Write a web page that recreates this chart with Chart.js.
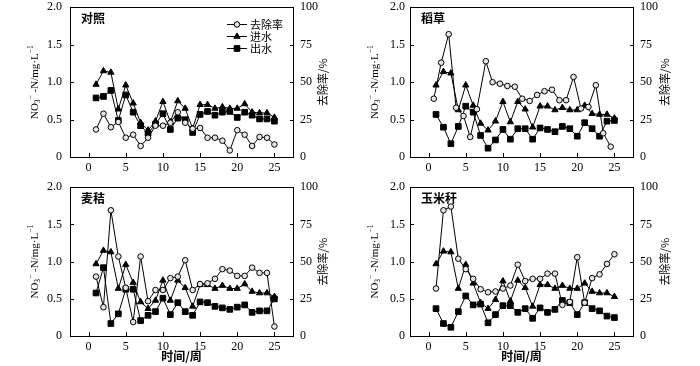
<!DOCTYPE html>
<html>
<head>
<meta charset="utf-8">
<script src="https://cdn.jsdelivr.net/npm/chart.js@4.4.1/dist/chart.umd.min.js"></script>
<style>
  html, body { margin: 0; padding: 0; background: #fff; }
  #wrap { position: relative; width: 700px; height: 366px; overflow: hidden; }
  #wrap canvas { position: absolute; }
  #wrap .ln { position: absolute; background: #000; z-index: 2; }
</style>
</head>
<body>
<div id="wrap">
  <canvas id="c1" width="350" height="200" style="left:0;top:0"></canvas>
  <canvas id="c2" width="350" height="200" style="left:350px;top:0"></canvas>
  <canvas id="c3" width="350" height="200" style="left:0;top:183px"></canvas>
  <canvas id="c4" width="350" height="200" style="left:350px;top:183px"></canvas>
</div>
<script>
(function () {
  'use strict';

  // ── Data ──────────────────────────────────────────────────────────────────
  var WEEKS = [1, 2, 3, 4, 5, 6, 7, 8, 9, 10, 11, 12, 13, 14, 15, 16, 17, 18, 19, 20, 21, 22, 23, 24, 25];
  // removal-rate markers of the rice straw panel sit a little left of the week
  var STRAW_RATE_WEEKS = [0.7, 1.7, 2.7, 3.7, 4.7, 5.6, 6.5, 7.7, 8.6, 9.6, 10.6, 11.6, 12.6, 13.6, 14.6, 15.6, 16.6, 17.6, 18.5, 19.5, 20.5, 21.5, 22.5, 23.5, 24.5];
  var X_TICKS = [0, 5, 10, 15, 20, 25];
  var Y_TICKS = [0, 0.5, 1.0, 1.5, 2.0];
  var Y2_TICKS = [0, 25, 50, 75, 100];
  var SERIES_NAMES = ['去除率', '进水', '出水'];
  var PANEL_NAMES = ['对照', '稻草', '麦秸', '玉米秆'];

  var inflowCtrl = [0.97, 1.15, 1.13, 0.64, 0.96, 0.72, 0.46, 0.36, 0.48, 0.74, 0.47, 0.75, 0.65, 0.38, 0.70, 0.70, 0.65, 0.67, 0.65, 0.65, 0.71, 0.60, 0.59, 0.59, 0.53];
  var outflowCtrl = [0.79, 0.81, 0.89, 0.49, 0.83, 0.60, 0.42, 0.32, 0.44, 0.58, 0.37, 0.52, 0.50, 0.33, 0.57, 0.61, 0.56, 0.60, 0.61, 0.53, 0.60, 0.56, 0.51, 0.51, 0.48];
  var rateCtrl = [18.5, 29, 20, 23.5, 13, 15, 7.5, 13, 21, 21, 23, 30, 23, 19, 19.5, 13, 13, 11, 4.5, 18, 15, 7.5, 13.5, 13, 8.5];

  var inflowRice = [0.96, 1.14, 1.12, 0.63, 0.96, 0.69, 0.45, 0.36, 0.48, 0.74, 0.47, 0.74, 0.64, 0.40, 0.68, 0.68, 0.63, 0.66, 0.63, 0.63, 0.69, 0.58, 0.57, 0.57, 0.52];
  var outflowRice = [0.57, 0.40, 0.18, 0.41, 0.68, 0.60, 0.29, 0.12, 0.23, 0.37, 0.24, 0.38, 0.38, 0.24, 0.39, 0.37, 0.34, 0.41, 0.38, 0.28, 0.46, 0.38, 0.28, 0.48, 0.49];
  var rateRice = [39, 63, 82, 33, 27.5, 13.5, 32, 64, 50, 49, 47.5, 47, 39, 37.5, 41.5, 44, 45, 38, 38, 53.5, 32.5, 33.5, 48, 16, 7];

  var inflowWheat = [0.97, 1.15, 1.13, 0.64, 0.96, 0.72, 0.46, 0.37, 0.48, 0.75, 0.48, 0.75, 0.65, 0.40, 0.69, 0.69, 0.64, 0.68, 0.64, 0.64, 0.70, 0.60, 0.58, 0.58, 0.53];
  var outflowWheat = [0.58, 0.92, 0.17, 0.30, 0.63, 0.63, 0.21, 0.28, 0.33, 0.51, 0.29, 0.45, 0.33, 0.28, 0.46, 0.45, 0.40, 0.38, 0.36, 0.39, 0.42, 0.32, 0.34, 0.34, 0.50];
  var rateWheat = [40, 19.5, 84.5, 53.5, 32.5, 9.5, 53.5, 23.5, 31, 31, 39, 40, 51, 31, 35, 35.5, 38.5, 45, 44, 40.5, 40.5, 46, 42.5, 42.5, 6.5];

  var inflowCorn = [0.97, 1.14, 1.13, 0.64, 0.96, 0.71, 0.45, 0.37, 0.49, 0.74, 0.47, 0.75, 0.65, 0.40, 0.69, 0.69, 0.64, 0.68, 0.64, 0.64, 0.71, 0.60, 0.58, 0.58, 0.53];
  var outflowCorn = [0.37, 0.17, 0.12, 0.33, 0.54, 0.42, 0.43, 0.18, 0.29, 0.41, 0.41, 0.32, 0.37, 0.24, 0.38, 0.32, 0.36, 0.48, 0.45, 0.29, 0.45, 0.37, 0.34, 0.27, 0.25];
  var rateCorn = [32, 84.5, 87, 52, 45, 38.5, 31.5, 29.5, 30, 32, 34, 48, 37, 38.5, 38.5, 42, 42, 21, 23, 53, 22.5, 39, 41.5, 48.5, 55];

  // ── Panel layout (page pixels) ────────────────────────────────────────────
  var PANELS = [
    { id: 'c1', name: PANEL_NAMES[0], inflow: inflowCtrl, outflow: outflowCtrl, rate: rateCtrl, rateWeeks: WEEKS,
      x0: 0, y0: 0, area: { l: 70, r: 293, t: 7, b: 157 }, lPad: 8, titleX: 35, rTitleX: 323, legend: true, xTitle: false },
    { id: 'c2', name: PANEL_NAMES[1], inflow: inflowRice, outflow: outflowRice, rate: rateRice, rateWeeks: STRAW_RATE_WEEKS,
      x0: 350, y0: 0, area: { l: 60, r: 283, t: 7, b: 157 }, lPad: 5, titleX: 25, rTitleX: 315, legend: false, xTitle: false },
    { id: 'c3', name: PANEL_NAMES[2], inflow: inflowWheat, outflow: outflowWheat, rate: rateWheat, rateWeeks: WEEKS,
      x0: 0, y0: 183, area: { l: 70, r: 293, t: 4, b: 153 }, lPad: 8, titleX: 35, rTitleX: 323, legend: false, xTitle: true },
    { id: 'c4', name: PANEL_NAMES[3], inflow: inflowCorn, outflow: outflowCorn, rate: rateCorn, rateWeeks: WEEKS,
      x0: 350, y0: 183, area: { l: 60, r: 283, t: 4, b: 153 }, lPad: 5, titleX: 25, rTitleX: 315, legend: false, xTitle: true }
  ];

  var SERIF = "'Liberation Serif', 'Times New Roman', serif";
  var CJK = "'Noto Sans CJK SC', 'Noto Sans', sans-serif";

  var STYLES = [
    { pointStyle: 'circle', radius: 2.8, bg: '#e4e4e4' },
    { pointStyle: 'triangle', radius: 3.6, bg: '#000' },
    { pointStyle: 'rect', radius: 4, bg: '#000' }
  ];

  var wrap = document.getElementById('wrap');

  function pts(xs, ys) {
    return ys.map(function (y, i) { return { x: xs[i], y: y }; });
  }

  function dataset(i, data, axis) {
    var s = STYLES[i];
    return {
      label: SERIES_NAMES[i],
      data: data,
      yAxisID: axis,
      borderColor: '#000',
      borderWidth: 1,
      backgroundColor: s.bg,
      pointStyle: s.pointStyle,
      pointRadius: s.radius,
      pointBorderWidth: 1,
      pointBorderColor: '#000',
      pointBackgroundColor: s.bg,
      tension: 0,
      clip: false
    };
  }

  function drawSupText(ctx, parts, x, y) {
    var total = 0;
    parts.forEach(function (q) {
      ctx.font = (q[1] === 'n' ? '11px ' : '7.5px ') + SERIF;
      total += ctx.measureText(q[0]).width;
    });
    var cx = x - total / 2;
    parts.forEach(function (q) {
      ctx.font = (q[1] === 'n' ? '11px ' : '7.5px ') + SERIF;
      var dy = q[1] === 'sub' ? 3 : (q[1] === 'sup' ? -4 : 0);
      ctx.fillText(q[0], cx, y + dy);
      cx += ctx.measureText(q[0]).width;
    });
  }

  function decorate(chart, p) {
    var a = chart.chartArea, ctx = chart.ctx;
    var midY = (a.top + a.bottom) / 2;
    ctx.save();
    ctx.fillStyle = '#000';
    ctx.textBaseline = 'middle';

    // left axis title
    ctx.save();
    ctx.translate(p.titleX, midY);
    ctx.rotate(-Math.PI / 2);
    ctx.textAlign = 'left';
    drawSupText(ctx, [['NO', 'n'], ['3', 'sub'], ['\u2212', 'sup'], [' -N/mg\u00b7L', 'n'], ['\u22121', 'sup']], 0, 0);
    ctx.restore();

    // right axis title
    ctx.save();
    ctx.translate(p.rTitleX, midY);
    ctx.rotate(-Math.PI / 2);
    ctx.textAlign = 'center';
    ctx.font = '11px ' + CJK;
    ctx.fillText('去除率/%', 0, 0);
    ctx.restore();

    // panel name
    ctx.textAlign = 'left';
    ctx.font = 'bold 12px ' + CJK;
    ctx.fillText(p.name, a.left + 11, a.top + 11);

    if (p.xTitle) {
      ctx.textAlign = 'center';
      ctx.font = 'bold 12px ' + CJK;
      ctx.fillText('时间/周', (a.left + a.right) / 2, a.bottom + 20);
    }

    if (p.legend) {
      [17, 29, 41].forEach(function (dy, i) {
        var s = STYLES[i], ry = Math.round(a.top + dy);
        ctx.fillStyle = '#000';
        ctx.fillRect(227, ry, 20, 1);
        ctx.fillStyle = s.bg;
        ctx.strokeStyle = '#000';
        ctx.lineWidth = 1;
        Chart.helpers.drawPoint(ctx, { pointStyle: s.pointStyle, radius: s.radius, rotation: 0, borderWidth: 1 }, 237, ry + 0.5);
        ctx.fillStyle = '#000';
        ctx.font = '11px ' + CJK;
        ctx.textAlign = 'left';
        ctx.fillText(SERIES_NAMES[i], 250, ry + 0.5);
      });
    }
    ctx.restore();
  }

  // thin black rule laid over the canvas
  function rule(x, y, w, h) {
    var d = document.createElement('div');
    d.className = 'ln';
    d.style.left = x + 'px';
    d.style.top = y + 'px';
    d.style.width = w + 'px';
    d.style.height = h + 'px';
    wrap.appendChild(d);
  }

  // plot frame and inward tick marks, placed from the chart's own scales
  function frame(chart, left, top) {
    var a = chart.chartArea;
    var xs = chart.scales.x, ys = chart.scales.y, y2 = chart.scales.y2;
    var L = Math.round(a.left), T = Math.round(a.top), R = Math.round(a.right), B = Math.round(a.bottom);
    rule(left + L, top + T, R - L + 1, 1);
    rule(left + L, top + B, R - L + 1, 1);
    rule(left + L, top + T, 1, B - T + 1);
    rule(left + R, top + T, 1, B - T + 1);
    X_TICKS.forEach(function (v) {
      rule(left + Math.round(xs.getPixelForValue(v)), top + B - 4, 1, 4);
    });
    Y_TICKS.forEach(function (v) {
      rule(left + L, top + Math.round(ys.getPixelForValue(v)), 4, 1);
    });
    Y2_TICKS.forEach(function (v) {
      rule(left + R - 3, top + Math.round(y2.getPixelForValue(v)), 4, 1);
    });
  }

  function fixedTicks(list) {
    return function (scale) {
      scale.ticks = list.map(function (v) { return { value: v }; });
    };
  }

  PANELS.forEach(function (p) {
    var canvas = document.getElementById(p.id);
    var W = canvas.width, H = canvas.height;
    var plotH = p.area.b - p.area.t;
    var xHeight = 30;
    var tickFont = { family: SERIF, size: 12 };

    var chart = new Chart(canvas, {
      type: 'line',
      data: {
        datasets: [
          dataset(0, pts(p.rateWeeks, p.rate), 'y2'),
          dataset(1, pts(WEEKS, p.inflow), 'y'),
          dataset(2, pts(WEEKS, p.outflow), 'y')
        ]
      },
      options: {
        responsive: false,
        animation: false,
        devicePixelRatio: 1,
        layout: { padding: 0 },
        plugins: { legend: { display: false }, tooltip: { enabled: false } },
        scales: {
          x: {
            type: 'linear',
            min: -2.5,
            max: 27.5,
            afterBuildTicks: fixedTicks(X_TICKS),
            afterFit: function (s) { s.height = xHeight; },
            grid: { display: false, drawTicks: false },
            border: { display: false },
            ticks: { color: '#000', font: tickFont, padding: 3, maxRotation: 0 }
          },
          y: {
            position: 'left',
            min: 0,
            max: 2,
            afterBuildTicks: fixedTicks(Y_TICKS),
            afterFit: function (s) { s.width = p.area.l; },
            grid: { display: false, drawTicks: false },
            border: { display: false },
            ticks: {
              color: '#000', font: tickFont, padding: p.lPad,
              callback: function (v) { return v === 0 ? '0' : v.toFixed(1); }
            }
          },
          y2: {
            position: 'right',
            min: 0,
            max: 100,
            afterBuildTicks: fixedTicks(Y2_TICKS),
            afterFit: function (s) { s.width = W - p.area.r; },
            grid: { display: false, drawTicks: false },
            border: { display: false },
            ticks: { color: '#000', font: tickFont, padding: 7 }
          }
        }
      },
      plugins: [{ id: 'decor', afterDraw: function (c) { decorate(c, p); } }]
    });

    // size the x box so the plot keeps its height, then shift the canvas
    xHeight = H - chart.chartArea.top - plotH;
    chart.update();
    var top = Math.round(p.y0 + p.area.t - chart.chartArea.top);
    canvas.style.top = top + 'px';
    frame(chart, p.x0, top);
  });
}());
</script>
</body>
</html>
